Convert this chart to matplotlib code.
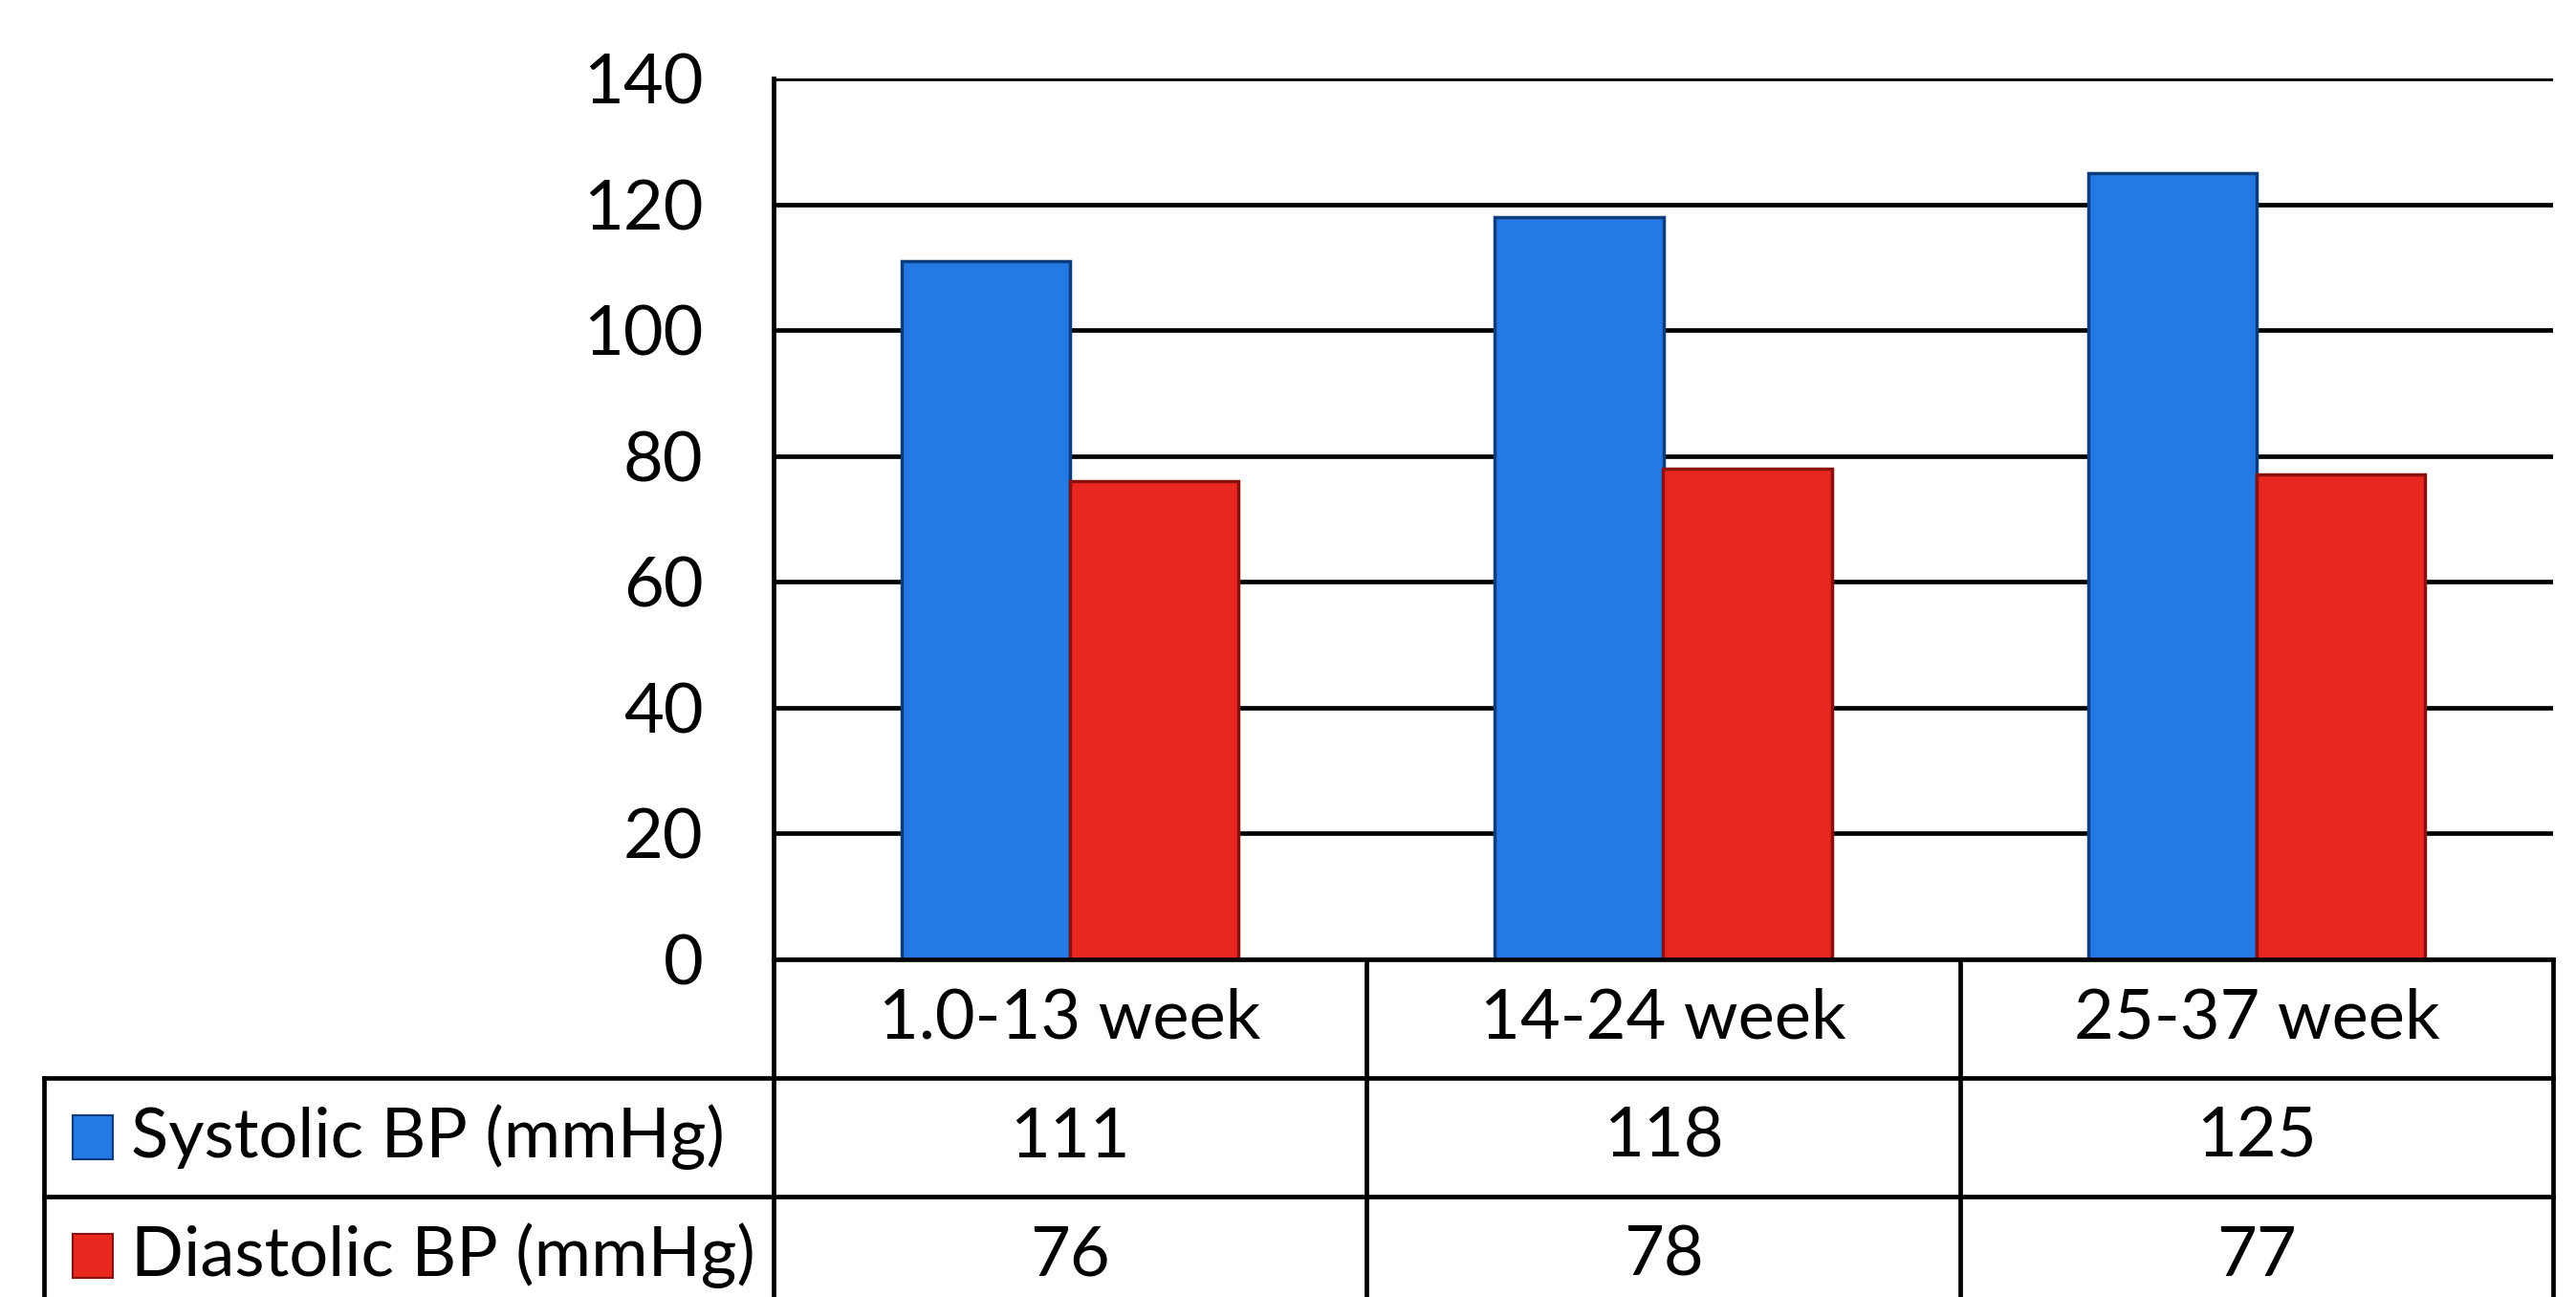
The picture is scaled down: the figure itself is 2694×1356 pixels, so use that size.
import numpy as np
import matplotlib
matplotlib.use("Agg")
import matplotlib.pyplot as plt
from matplotlib.patches import Rectangle

#%% data
periods = ["1.0-13 week", "14-24 week", "25-37 week"]
series_names = ["Systolic BP (mmHg)", "Diastolic BP (mmHg)"]
systolic = [111, 118, 125]
diastolic = [76, 78, 77]
yticks = [0, 20, 40, 60, 80, 100, 120, 140]

face_colors = ["#2479E4", "#E8281F"]
edge_colors = ["#0E3C7C", "#8A1010"]

plt.rcParams['font.family'] = ['Lato', 'DejaVu Sans']
FS = 52

#%% layout (pixels of a 2694 x 1356 canvas)
W, H = 2694, 1356
ax_left, ax_right = 809, 2670
ax_top, ax_bottom = 82, 1003
tab_left = 46
row_h = 124

fig = plt.figure(figsize=(W / 100, H / 100), dpi=100)
ax = fig.add_axes([ax_left / W, 1 - ax_bottom / H,
                   (ax_right - ax_left) / W, (ax_bottom - ax_top) / H])

#%% bars
x = np.arange(len(periods))
bw = 0.284
values = [systolic, diastolic]
for k, vals in enumerate(values):
    ax.bar(x + (k - 0.5) * bw, vals, width=bw, color=face_colors[k],
           edgecolor=edge_colors[k], linewidth=2.5, zorder=3)

ax.set_xlim(-0.5, len(periods) - 0.5)
ax.set_ylim(0, 140)
ax.set_yticks(yticks)
ax.set_yticklabels([str(t) for t in yticks], fontsize=FS)
ax.tick_params(axis='y', length=0, pad=53)
ax.tick_params(axis='x', length=0, labelbottom=False)
ax.yaxis.grid(True, color='black', linewidth=3.4, zorder=0)
ax.set_axisbelow(True)
for s in ['top', 'right', 'bottom']:
    ax.spines[s].set_visible(False)
ax.spines['left'].set_linewidth(3.4)

#%% data table under the chart
cat_w = (ax_right - ax_left) / len(periods)
x_tab = -0.5 - (ax_left - tab_left) / cat_w
tab = fig.add_axes([tab_left / W, 0, (ax_right - tab_left) / W, 1 - ax_bottom / H])
tab.set_xlim(x_tab, len(periods) - 0.5)
tab.set_ylim(-(H - ax_bottom) / row_h, 0)
tab.axis('off')

lw = 3.4
nrows = 1 + len(series_names)
tab.plot([-0.5, len(periods) - 0.5], [0, 0], color='black', lw=lw, clip_on=False)
for r in range(1, nrows):
    tab.plot([x_tab, len(periods) - 0.5], [-r, -r], color='black', lw=lw, clip_on=False)
for c in range(len(periods) + 1):
    tab.plot([c - 0.5, c - 0.5], [0, -nrows], color='black', lw=lw, clip_on=False)
tab.plot([x_tab, x_tab], [-1, -nrows], color='black', lw=lw, clip_on=False)

for i, p in enumerate(periods):
    tab.text(i, -0.5, p, fontsize=FS, ha='center', va='center')

sq_w = 42 / cat_w
sq_h = 46 / row_h
for k, name in enumerate(series_names):
    yc = -1.5 - k
    tab.add_patch(Rectangle((x_tab + 30 / cat_w, yc - sq_h / 2), sq_w, sq_h,
                            facecolor=face_colors[k], edgecolor=edge_colors[k], lw=1.5))
    tab.text(x_tab + 91 / cat_w, yc, name, fontsize=FS, ha='left', va='center')
    for i, v in enumerate(values[k]):
        tab.text(i, yc, str(v), fontsize=FS, ha='center', va='center')

fig.savefig('out.png', dpi=100)
